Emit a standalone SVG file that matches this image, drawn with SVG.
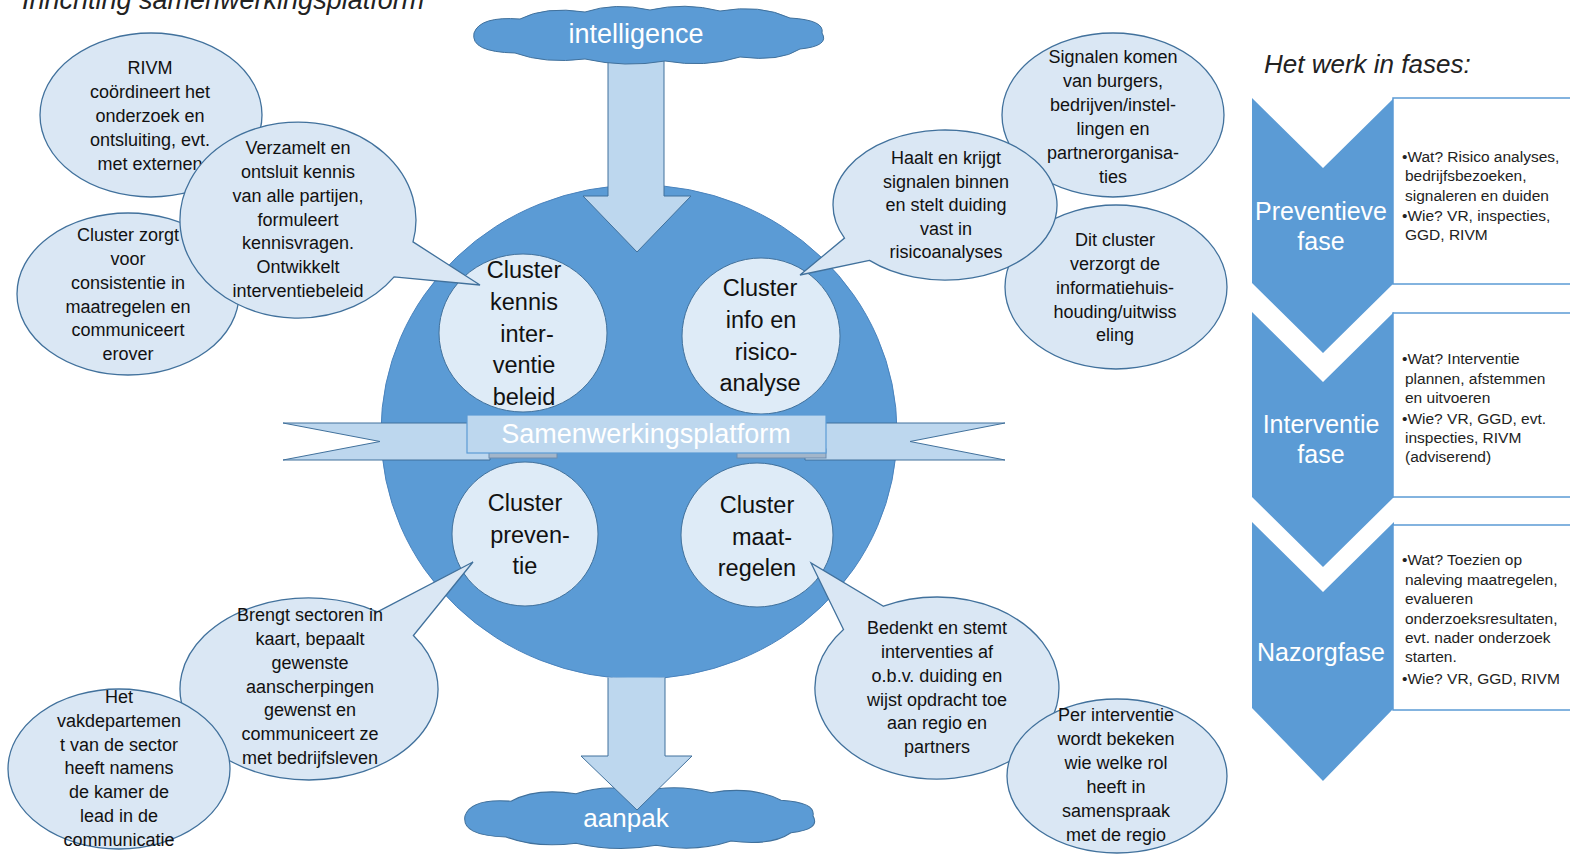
<svg xmlns="http://www.w3.org/2000/svg" width="1570" height="856" viewBox="0 0 1570 856">
<defs>
<style>
.bub{fill:#dae7f4;stroke:#41719c;stroke-width:1.3}
.cl{fill:#deebf7;stroke:#41719c;stroke-width:1}
.arr{fill:#bdd7ee;stroke:#41719c;stroke-width:1}
.cloud{fill:#5b9bd5;stroke:#41719c;stroke-width:1}
.chev{fill:#5b9bd5}
.box{fill:#ffffff;stroke:#5b9bd5;stroke-width:1.5}
.t{font-family:"Liberation Sans",Arial,sans-serif;font-size:18px;fill:#111;text-anchor:middle}
.tc{font-family:"Liberation Sans",Arial,sans-serif;font-size:23.5px;fill:#111;text-anchor:middle}
.tw{font-family:"Liberation Sans",Arial,sans-serif;fill:#ffffff;text-anchor:middle}
.tb{font-family:"Liberation Sans",Arial,sans-serif;font-size:15.5px;fill:#222}
.ti{font-family:"Liberation Sans",Arial,sans-serif;font-style:italic;font-size:26px;fill:#222}
</style>
<path id="cloudShape" d="M-173,-2 Q-167,-19 -127,-16 Q-102,-29 -62,-23 Q-32,-33 3,-25 Q38,-33 73,-24 Q113,-31 143,-17 Q178,-15 175,-2 Q183,11 153,14 Q133,27 93,22 Q58,33 18,26 Q-22,33 -62,24 Q-102,29 -132,18 Q-177,17 -173,-2 Z"/>
</defs>
<rect width="1570" height="856" fill="#ffffff"/>

<g id="title">
<text class="ti" x="22" y="9" style="font-size:27px">Inrichting samenwerkingsplatform</text>
</g>

<g id="aanpak">
<use href="#cloudShape" class="cloud" transform="translate(638,818) scale(1,1.05)"/>
</g>

<g id="platform">
<ellipse cx="639" cy="432" rx="258" ry="247" fill="#5b9bd5" stroke="#4a83bd" stroke-width="1"/>
</g>

<g id="connectors">
<path class="arr" d="M608,60 L608,196 L583,196 L637,252 L691,196 L664,196 L664,60"/>
<path class="arr" d="M608,677.5 L608,756 L581,756 L637,810 L692,756 L665,756 L665,677.5"/>
</g>

<g id="aanpak-label">
<text class="tw" x="626" y="827" style="font-size:26px">aanpak</text>
</g>

<g id="intelligence">
<use href="#cloudShape" class="cloud" transform="translate(647,35)"/>
<text class="tw" x="636" y="43" style="font-size:27px">intelligence</text>
</g>

<g id="cluster-kennis">
<ellipse class="cl" cx="523" cy="333" rx="84" ry="79"/>
<text class="tc"><tspan x="524" y="278">Cluster</tspan><tspan x="524" y="310">kennis</tspan><tspan x="527" y="342">inter-</tspan><tspan x="524" y="373">ventie</tspan><tspan x="524" y="405">beleid</tspan></text>
</g>
<g id="cluster-info">
<ellipse class="cl" cx="761" cy="336" rx="79" ry="78"/>
<text class="tc"><tspan x="760" y="296">Cluster</tspan><tspan x="761" y="328">info en</tspan><tspan x="766" y="360">risico-</tspan><tspan x="760" y="391">analyse</tspan></text>
</g>
<g id="cluster-preventie">
<ellipse class="cl" cx="525" cy="534" rx="73" ry="72"/>
<text class="tc"><tspan x="525" y="511">Cluster</tspan><tspan x="530" y="543">preven-</tspan><tspan x="525" y="574">tie</tspan></text>
</g>
<g id="cluster-maatregelen">
<ellipse class="cl" cx="757" cy="535" rx="76" ry="72"/>
<text class="tc"><tspan x="757" y="513">Cluster</tspan><tspan x="762" y="545">maat-</tspan><tspan x="757" y="576">regelen</tspan></text>
</g>

<g id="samenwerkingsplatform">
<polygon class="arr" points="283,423 490,423 490,460 283,460 380,441.5" stroke="#5b9bd5"/>
<polygon class="arr" points="805,423 1005,423 910,441.5 1005,460 805,460" stroke="#5b9bd5"/>
<rect x="489" y="449" width="68" height="9" fill="#a3b6ca" stroke="#6d8db0" stroke-width="1"/>
<rect x="737" y="449" width="89" height="9" fill="#a3b6ca" stroke="#6d8db0" stroke-width="1"/>
<rect x="467" y="415" width="359" height="38" fill="#bdd7ee" stroke="#5b9bd5" stroke-width="1.2"/>
<text class="tw" x="646" y="443" style="font-size:27px">Samenwerkingsplatform</text>
</g>

<g id="bubble-rivm">
<ellipse class="bub" cx="151" cy="115" rx="111" ry="82"/>
<text class="t"><tspan x="150" y="74">RIVM</tspan><tspan x="150" y="98">coördineert het</tspan><tspan x="150" y="122">onderzoek en</tspan><tspan x="150" y="146">ontsluiting, evt.</tspan><tspan x="150" y="170">met externen</tspan></text>
</g>
<g id="bubble-consistentie">
<ellipse class="bub" cx="128" cy="294" rx="111" ry="81"/>
<text class="t"><tspan x="128" y="241">Cluster zorgt</tspan><tspan x="128" y="265">voor</tspan><tspan x="128" y="289">consistentie in</tspan><tspan x="128" y="313">maatregelen en</tspan><tspan x="128" y="336">communiceert</tspan><tspan x="128" y="360">erover</tspan></text>
</g>
<g id="bubble-verzamelt">
<path class="bub" d="M413,241.9 L480,285 L394.1,276.9 A118 98 0 1 1 413,241.9 Z"/>
<text class="t"><tspan x="298" y="154">Verzamelt en</tspan><tspan x="298" y="178">ontsluit kennis</tspan><tspan x="298" y="202">van alle partijen,</tspan><tspan x="298" y="226">formuleert</tspan><tspan x="298" y="249">kennisvragen.</tspan><tspan x="298" y="273">Ontwikkelt</tspan><tspan x="298" y="297">interventiebeleid</tspan></text>
</g>

<g id="bubble-signalen">
<ellipse class="bub" cx="1113" cy="115" rx="111" ry="82"/>
<text class="t"><tspan x="1113" y="63">Signalen komen</tspan><tspan x="1113" y="87">van burgers,</tspan><tspan x="1113" y="111">bedrijven/instel-</tspan><tspan x="1113" y="135">lingen en</tspan><tspan x="1113" y="159">partnerorganisa-</tspan><tspan x="1113" y="183">ties</tspan></text>
</g>
<g id="bubble-informatie">
<ellipse class="bub" cx="1116" cy="287" rx="111" ry="82"/>
<text class="t"><tspan x="1115" y="246">Dit cluster</tspan><tspan x="1115" y="270">verzorgt de</tspan><tspan x="1115" y="294">informatiehuis-</tspan><tspan x="1115" y="318">houding/uitwiss</tspan><tspan x="1115" y="341">eling</tspan></text>
</g>
<g id="bubble-haalt">
<path class="bub" d="M869.5,260.4 L800,275 L844.5,238.1 A112 75 0 1 1 869.5,260.4 Z"/>
<text class="t"><tspan x="946" y="164">Haalt en krijgt</tspan><tspan x="946" y="188">signalen binnen</tspan><tspan x="946" y="211">en stelt duiding</tspan><tspan x="946" y="235">vast in</tspan><tspan x="946" y="258">risicoanalyses</tspan></text>
</g>

<g id="bubble-brengt">
<path class="bub" d="M377.4,611.8 L473,562 L413.4,635.5 A129 91 0 1 1 377.4,611.8 Z"/>
<text class="t"><tspan x="310" y="621">Brengt sectoren in</tspan><tspan x="310" y="645">kaart, bepaalt</tspan><tspan x="310" y="669">gewenste</tspan><tspan x="310" y="693">aanscherpingen</tspan><tspan x="310" y="716">gewenst en</tspan><tspan x="310" y="740">communiceert ze</tspan><tspan x="310" y="764">met bedrijfsleven</tspan></text>
</g>
<g id="bubble-vakdepartement">
<ellipse class="bub" cx="119" cy="769" rx="111" ry="80"/>
<text class="t"><tspan x="119" y="703">Het</tspan><tspan x="119" y="727">vakdepartemen</tspan><tspan x="119" y="751">t van de sector</tspan><tspan x="119" y="774">heeft namens</tspan><tspan x="119" y="798">de kamer de</tspan><tspan x="119" y="822">lead in de</tspan><tspan x="119" y="846">communicatie</tspan></text>
</g>

<g id="bubble-bedenkt">
<path class="bub" d="M843.5,629.5 L811,563 L883.5,606.2 A122 91 0 1 1 843.5,629.5 Z"/>
<text class="t"><tspan x="937" y="634">Bedenkt en stemt</tspan><tspan x="937" y="658">interventies af</tspan><tspan x="937" y="682">o.b.v. duiding en</tspan><tspan x="937" y="706">wijst opdracht toe</tspan><tspan x="937" y="729">aan regio en</tspan><tspan x="937" y="753">partners</tspan></text>
</g>
<g id="bubble-per-interventie">
<ellipse class="bub" cx="1117" cy="776" rx="110" ry="77"/>
<text class="t"><tspan x="1116" y="721">Per interventie</tspan><tspan x="1116" y="745">wordt bekeken</tspan><tspan x="1116" y="769">wie welke rol</tspan><tspan x="1116" y="793">heeft in</tspan><tspan x="1116" y="817">samenspraak</tspan><tspan x="1116" y="841">met de regio</tspan></text>
</g>

<g id="fases-title">
<text class="ti" x="1264" y="73">Het werk in fases:</text>
</g>

<g id="fase-preventief">
<polygon class="chev" points="1252,98 1323,168 1394,98 1394,283 1323,353 1252,283"/>
<rect class="box" x="1393" y="98" width="200" height="186"/>
<text class="tw" style="font-size:25px"><tspan x="1321" y="220">Preventieve</tspan><tspan x="1321" y="250">fase</tspan></text>
<text class="tb"><tspan x="1402" y="162">•Wat? Risico analyses,</tspan><tspan x="1405" y="181">bedrijfsbezoeken,</tspan><tspan x="1405" y="201">signaleren en duiden</tspan><tspan x="1402" y="221">•Wie? VR, inspecties,</tspan><tspan x="1405" y="240">GGD, RIVM</tspan></text>
</g>

<g id="fase-interventie">
<polygon class="chev" points="1252,312 1323,382 1394,312 1394,497 1323,567 1252,497"/>
<rect class="box" x="1393" y="313" width="200" height="184"/>
<text class="tw" style="font-size:25px"><tspan x="1321" y="433">Interventie</tspan><tspan x="1321" y="463">fase</tspan></text>
<text class="tb"><tspan x="1402" y="364">•Wat? Interventie</tspan><tspan x="1405" y="384">plannen, afstemmen</tspan><tspan x="1405" y="403">en uitvoeren</tspan><tspan x="1402" y="424">•Wie? VR, GGD, evt.</tspan><tspan x="1405" y="443">inspecties, RIVM</tspan><tspan x="1405" y="462">(adviserend)</tspan></text>
</g>

<g id="fase-nazorg">
<polygon class="chev" points="1252,522 1323,592 1394,522 1394,708 1323,781 1252,708"/>
<rect class="box" x="1393" y="525" width="200" height="185"/>
<text class="tw" style="font-size:25px"><tspan x="1321" y="661">Nazorgfase</tspan></text>
<text class="tb"><tspan x="1402" y="565">•Wat? Toezien op</tspan><tspan x="1405" y="585">naleving maatregelen,</tspan><tspan x="1405" y="604">evalueren</tspan><tspan x="1405" y="624">onderzoeksresultaten,</tspan><tspan x="1405" y="643">evt. nader onderzoek</tspan><tspan x="1405" y="662">starten.</tspan><tspan x="1402" y="684">•Wie? VR, GGD, RIVM</tspan></text>
</g>
</svg>
